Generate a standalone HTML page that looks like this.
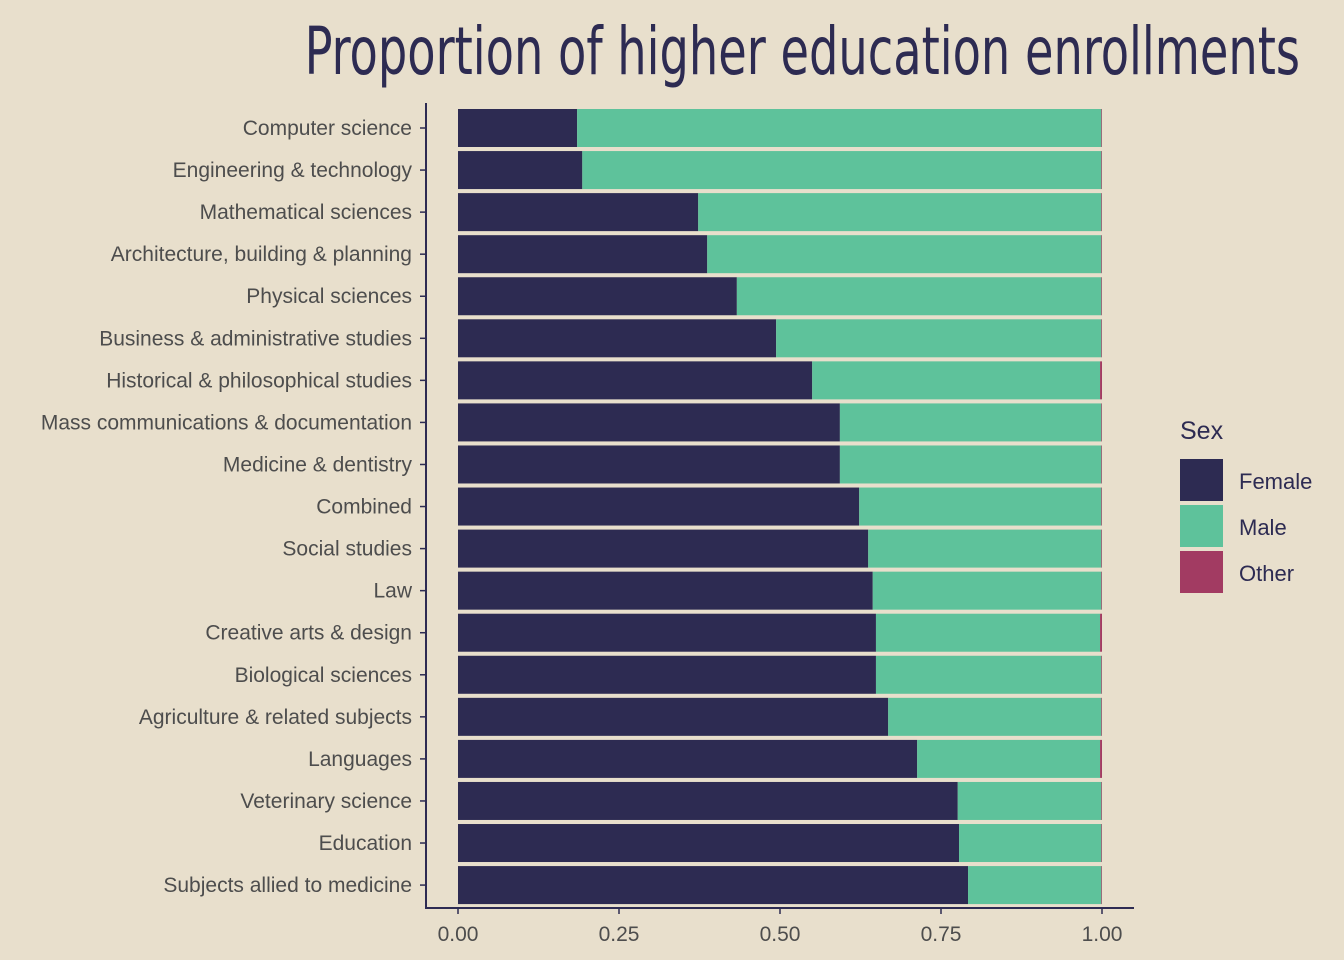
<!DOCTYPE html>
<html><head><meta charset="utf-8"><style>
html,body{margin:0;padding:0;background:#e8dfcc;}
svg{display:block;font-family:"Liberation Sans",sans-serif;}
</style></head><body>
<svg id="chart" width="1344" height="960" viewBox="0 0 1344 960">
<rect x="0" y="0" width="1344" height="960" fill="#e8dfcc"/>
<text x="1300" y="74" text-anchor="end" font-family="'DejaVu Sans Condensed','DejaVu Sans',sans-serif" font-size="66" fill="#2d2b52" transform="translate(1300,0) scale(0.78,1) translate(-1300,0)">Proportion of higher education enrollments</text>
<g id="bars"></g>
<g id="yaxis"></g>
<g id="xaxis"></g>
<g id="legend">
<text x="1180" y="439" font-size="25" fill="#2d2b52">Sex</text>
<rect x="1180" y="459" width="43" height="42" fill="#2d2b52"/>
<rect x="1180" y="505" width="43" height="42" fill="#5ec29b"/>
<rect x="1180" y="551" width="43" height="42" fill="#a23b62"/>
<text x="1239" y="489" font-size="22" fill="#2d2b52">Female</text>
<text x="1239" y="535" font-size="22" fill="#2d2b52">Male</text>
<text x="1239" y="581" font-size="22" fill="#2d2b52">Other</text>
</g>
</svg>
<script>
const categories = ["Computer science","Engineering & technology","Mathematical sciences","Architecture, building & planning","Physical sciences","Business & administrative studies","Historical & philosophical studies","Mass communications & documentation","Medicine & dentistry","Combined","Social studies","Law","Creative arts & design","Biological sciences","Agriculture & related subjects","Languages","Veterinary science","Education","Subjects allied to medicine"];
const female = [0.185,0.193,0.373,0.387,0.433,0.494,0.550,0.593,0.593,0.623,0.637,0.644,0.649,0.649,0.668,0.713,0.776,0.778,0.792];
const other = [0.001,0.001,0.001,0.001,0.001,0.001,0.003,0.001,0.001,0.001,0.001,0.001,0.003,0.001,0.001,0.003,0.001,0.001,0.001];
const xTicks = [0,0.25,0.5,0.75,1];
const xTickLabels = ["0.00","0.25","0.50","0.75","1.00"];
const NS="http://www.w3.org/2000/svg";
const x0=458,x1=1102;
const xs=v=>x0+(x1-x0)*v;
const yTop=128,step=42.06,barH=38;
const ys=i=>yTop+i*step;
function mk(tag,attrs,parent){const e=document.createElementNS(NS,tag);for(const k in attrs)e.setAttribute(k,attrs[k]);parent.appendChild(e);return e;}
const gb=document.getElementById('bars'),gy=document.getElementById('yaxis'),gx=document.getElementById('xaxis');
categories.forEach((c,i)=>{
  const f=female[i],o=other[i],m=1-f-o,yc=ys(i);
  let r=mk('rect',{x:xs(0),y:yc-barH/2,width:xs(f)-xs(0),height:barH,fill:'#2d2b52'},gb);
  
  
  r=mk('rect',{x:xs(f),y:yc-barH/2,width:xs(f+m)-xs(f),height:barH,fill:'#5ec29b'},gb);
  
  
  r=mk('rect',{x:xs(f+m),y:yc-barH/2,width:Math.max(xs(1)-xs(f+m),0.5),height:barH,fill:'#a23b62'},gb);
  
  
  const t=mk('text',{x:412,y:yc+7,'text-anchor':'end','font-size':21,fill:'#4d4d4d'},gy);
  t.textContent=c;
  
  
  const tk=mk('line',{x1:420,x2:426,y1:yc,y2:yc,stroke:'#2d2b52','stroke-width':1.5},gy);
  
  
});
let al=mk('line',{x1:426,x2:426,y1:103,y2:909,stroke:'#2d2b52','stroke-width':2},gy);


al=mk('line',{x1:425,x2:1134,y1:908,y2:908,stroke:'#2d2b52','stroke-width':2},gx);


xTicks.forEach((v,i)=>{
  const tk=mk('line',{x1:xs(v),x2:xs(v),y1:908,y2:914,stroke:'#2d2b52','stroke-width':1.5},gx);
  
  
  const t=mk('text',{x:xs(v),y:941,'text-anchor':'middle','font-size':21,fill:'#4d4d4d'},gx);
  t.textContent=xTickLabels[i];
  
  
});
</script>
</body></html>
